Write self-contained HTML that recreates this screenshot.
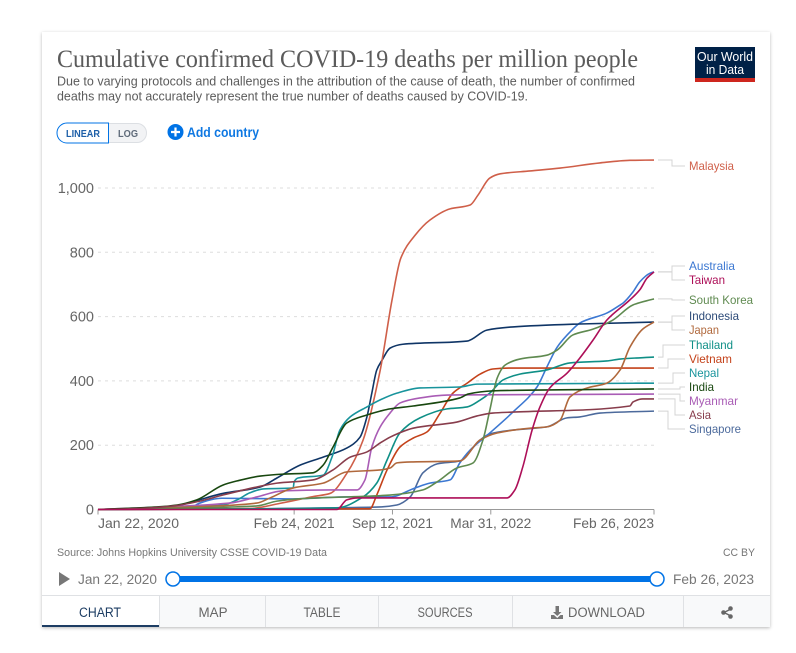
<!DOCTYPE html>
<html lang="en">
<head>
<meta charset="utf-8">
<title>Cumulative confirmed COVID-19 deaths per million people</title>
<style>
html,body{margin:0;padding:0;background:#fff;width:796px;height:653px;overflow:hidden}
svg{display:block}
text{font-family:"Liberation Sans",sans-serif}
</style>
</head>
<body>
<svg id="chart" width="796" height="653" viewBox="0 0 796 653" xmlns="http://www.w3.org/2000/svg">
  <defs>
    <filter id="card-shadow" x="-5%" y="-5%" width="110%" height="110%">
      <feDropShadow dx="0" dy="1" stdDeviation="1.6" flood-color="#000" flood-opacity="0.28"/>
    </filter>
  </defs>
  <rect x="42" y="32" width="728" height="595" fill="#fff" filter="url(#card-shadow)"/>

  <text x="57" y="67" font-size="25" fill="#5b5b5b" style="font-family:'Liberation Serif',serif" textLength="581" lengthAdjust="spacingAndGlyphs">Cumulative confirmed COVID-19 deaths per million people</text>
  <text x="57" y="85.5" font-size="13" fill="#5b5b5b" textLength="578" lengthAdjust="spacingAndGlyphs">Due to varying protocols and challenges in the attribution of the cause of death, the number of confirmed</text>
  <text x="57" y="100.5" font-size="13" fill="#5b5b5b" textLength="471" lengthAdjust="spacingAndGlyphs">deaths may not accurately represent the true number of deaths caused by COVID-19.</text>

  <g>
    <rect x="695" y="47" width="60" height="35" fill="#002147"/>
    <rect x="695" y="78" width="60" height="4" fill="#ce261e"/>
    <text x="725" y="61" font-size="12.5" fill="#fff" text-anchor="middle" textLength="56" lengthAdjust="spacingAndGlyphs">Our World</text>
    <text x="725" y="74" font-size="12.5" fill="#fff" text-anchor="middle" textLength="38" lengthAdjust="spacingAndGlyphs">in Data</text>
  </g>

  <g>
    <path d="M108 123.5H137a9.5 9.5 0 0 1 0 19H108Z" fill="#f2f3f5" stroke="#dcdfe3"/>
    <path d="M108.5 123H67a10 10 0 0 0 0 20H108.5Z" fill="#fff" stroke="#0073e6" stroke-width="1"/>
    <text x="66" y="137" font-size="10.5" font-weight="bold" fill="#1d5fa8" textLength="34" lengthAdjust="spacingAndGlyphs">LINEAR</text>
    <text x="118" y="137" font-size="10.5" font-weight="bold" fill="#5f6b7a" textLength="20" lengthAdjust="spacingAndGlyphs">LOG</text>
  </g>
  <g>
    <circle cx="175.5" cy="132" r="8" fill="#0073e6"/>
    <path d="M171 132H180M175.5 127.5V136.5" stroke="#fff" stroke-width="2.2" fill="none"/>
    <text x="187" y="137" font-size="13.5" font-weight="bold" fill="#0f78e2" textLength="72" lengthAdjust="spacingAndGlyphs">Add country</text>
  </g>

  <g id="grid-layer"></g>
  <g id="y-label-layer"></g>
  <g id="x-axis-layer"></g>
  <g id="series-layer"></g>
  <g id="connector-layer"></g>
  <g id="legend-layer"></g>

  <text x="57" y="556" font-size="11" fill="#777" textLength="270" lengthAdjust="spacingAndGlyphs">Source: Johns Hopkins University CSSE COVID-19 Data</text>
  <text x="755" y="556" font-size="11" fill="#777" text-anchor="end" textLength="32" lengthAdjust="spacingAndGlyphs">CC BY</text>

  <g>
    <path d="M59 572L70 579L59 586Z" fill="#777"/>
    <text x="78" y="584" font-size="13.5" fill="#777" textLength="79" lengthAdjust="spacingAndGlyphs">Jan 22, 2020</text>
    <rect x="173" y="576" width="484" height="6" fill="#0073e6"/>
    <circle cx="173" cy="579" r="7" fill="#fff" stroke="#0073e6" stroke-width="1.5"/>
    <circle cx="657" cy="579" r="7" fill="#fff" stroke="#0073e6" stroke-width="1.5"/>
    <text x="673" y="584" font-size="13.5" fill="#777" textLength="81" lengthAdjust="spacingAndGlyphs">Feb 26, 2023</text>
  </g>

  <g>
    <rect x="159" y="595.5" width="611" height="31.5" fill="#f8f9fa"/>
    <path d="M42 595.5H770M159.5 595.5V627M265.5 595.5V627M378.5 595.5V627M512.5 595.5V627M683.5 595.5V627" stroke="#dfe1e4" fill="none"/>
    <rect x="42" y="596" width="117" height="31" fill="#fff"/>
    <rect x="42" y="625" width="117" height="2" fill="#1d3d63"/>
    <text x="100" y="617" font-size="13.5" fill="#1d3d63" text-anchor="middle" textLength="42" lengthAdjust="spacingAndGlyphs">CHART</text>
    <rect x="160" y="596" width="105" height="29" fill="transparent"/>
    <text x="213" y="617" font-size="13.5" fill="#666" text-anchor="middle" textLength="29" lengthAdjust="spacingAndGlyphs">MAP</text>
    <rect x="266" y="596" width="112" height="29" fill="transparent"/>
    <text x="322" y="617" font-size="13.5" fill="#666" text-anchor="middle" textLength="37" lengthAdjust="spacingAndGlyphs">TABLE</text>
    <rect x="379" y="596" width="133" height="29" fill="transparent"/>
    <text x="445" y="617" font-size="13.5" fill="#666" text-anchor="middle" textLength="55" lengthAdjust="spacingAndGlyphs">SOURCES</text>
    <rect x="513" y="596" width="170" height="29" fill="transparent"/>
    <path d="M555.5 606H559V612H561.5L557.25 616L553 612H555.5ZM551 615H554L557.25 618L560.5 615H563V619H551Z" fill="#777"/>
    <text x="568" y="617" font-size="13.5" fill="#666" textLength="77" lengthAdjust="spacingAndGlyphs">DOWNLOAD</text>
    <g>
      <path d="M731 609L724 612.5L731 616" stroke="#666" stroke-width="1.5" fill="none"/>
      <circle cx="730.5" cy="608.5" r="2.3" fill="#666"/>
      <circle cx="723.5" cy="612.5" r="2.3" fill="#666"/>
      <circle cx="730.5" cy="616.5" r="2.3" fill="#666"/>
    </g>
  </g>
</svg>

<script>
// Axis ticks
const yTicks = [0, 200, 400, 600, 800, 1000];
const yTickLabels = ["0", "200", "400", "600", "800", "1,000"];
const xTickDays = [0, 399, 599, 799, 1131];
const xTickLabels = ["Jan 22, 2020", "Feb 24, 2021", "Sep 12, 2021", "Mar 31, 2022", "Feb 26, 2023"];

// Series data: days since Jan 22, 2020, and deaths per million
const singaporeDays = [0, 323, 458, 574, 608, 635, 661, 690, 736, 777, 797, 844, 913, 954, 980, 1021, 1131];
const singaporeValues = [0, 2, 5, 8, 14, 39, 114, 142, 151, 216, 235, 247, 257, 285, 288, 300, 306];
const australiaDays = [0, 187, 207, 252, 391, 506, 594, 645, 675, 716, 736, 757, 797, 844, 893, 913, 934, 964, 980, 1035, 1062, 1068, 1088, 1102, 1123, 1131];
const australiaValues = [0, 5, 20, 35, 33, 39, 39, 67, 82, 92, 145, 185, 238, 303, 381, 443, 505, 558, 580, 611, 636, 642, 676, 708, 735, 739];
const indonesiaDays = [0, 120, 167, 254, 330, 364, 411, 458, 506, 533, 547, 557, 567, 578, 594, 620, 751, 791, 844, 980, 1131];
const indonesiaValues = [0, 2, 14, 50, 70, 98, 138, 163, 191, 225, 288, 362, 434, 465, 502, 514, 524, 558, 568, 577, 583];
const malaysiaDays = [0, 309, 370, 437, 472, 506, 539, 574, 598, 616, 645, 675, 716, 757, 773, 797, 818, 879, 940, 1021, 1082, 1131];
const malaysiaValues = [0, 3, 19, 40, 50, 112, 215, 433, 651, 782, 853, 900, 935, 947, 978, 1031, 1044, 1053, 1062, 1078, 1086, 1087];
const vietnamDays = [0, 553, 567, 588, 614, 641, 669, 696, 722, 751, 777, 803, 844, 1131];
const vietnamValues = [0, 2, 45, 123, 194, 222, 241, 300, 362, 393, 421, 437, 440, 440];
const thailandDays = [0, 486, 539, 567, 588, 614, 655, 710, 751, 777, 797, 824, 858, 913, 960, 1035, 1062, 1131];
const thailandValues = [0, 5, 39, 82, 154, 238, 285, 313, 319, 340, 362, 403, 421, 434, 456, 462, 468, 474];
const nepalDays = [0, 254, 283, 309, 336, 397, 399, 407, 458, 476, 492, 513, 547, 574, 608, 655, 736, 771, 1131];
const nepalValues = [0, 14, 30, 52, 64, 67, 86, 98, 107, 163, 247, 288, 319, 341, 362, 378, 381, 390, 393];
const myanmarDays = [0, 268, 323, 376, 472, 527, 543, 557, 574, 594, 614, 655, 710, 1131];
const myanmarValues = [0, 20, 39, 58, 61, 61, 92, 194, 257, 300, 331, 347, 356, 359];
const japanDays = [0, 187, 323, 350, 397, 458, 506, 574, 594, 608, 641, 736, 777, 812, 879, 913, 940, 960, 995, 1035, 1062, 1082, 1108, 1131];
const japanValues = [0, 8, 20, 36, 67, 82, 117, 123, 129, 145, 148, 151, 216, 238, 253, 257, 278, 350, 378, 393, 434, 505, 561, 583];
const southKoreaDays = [0, 323, 364, 405, 594, 661, 690, 730, 763, 783, 797, 812, 828, 858, 913, 934, 966, 1007, 1047, 1088, 1123, 1131];
const southKoreaValues = [0, 11, 26, 33, 45, 61, 86, 129, 145, 216, 309, 409, 449, 468, 480, 496, 543, 561, 589, 636, 652, 655];
const indiaDays = [0, 120, 161, 201, 254, 283, 330, 376, 437, 458, 478, 506, 547, 574, 594, 641, 736, 753, 803, 1131];
const indiaValues = [0, 8, 14, 30, 76, 89, 104, 110, 114, 138, 194, 269, 294, 306, 313, 322, 347, 359, 369, 375];
const asiaDays = [0, 65, 153, 207, 254, 323, 364, 437, 478, 513, 547, 574, 594, 608, 641, 730, 771, 803, 844, 1082, 1088, 1108, 1131];
const asiaValues = [0, 2, 11, 26, 45, 70, 82, 92, 123, 163, 179, 207, 225, 235, 253, 272, 291, 300, 303, 322, 334, 344, 344];
const taiwanDays = [0, 486, 506, 527, 594, 832, 848, 864, 883, 899, 919, 954, 980, 1007, 1035, 1082, 1102, 1117, 1131];
const taiwanValues = [0, 0, 30, 36, 36, 36, 61, 132, 247, 319, 378, 424, 471, 527, 589, 652, 683, 720, 739];

// Axis functions
function xScale(day) { return 98 + day * 0.4916; }
function yScale(value) { return 509.5 - value * 0.3215; }

const svgNS = "http://www.w3.org/2000/svg";
function svgEl(tag, parent, attrs) {
  const el = document.createElementNS(svgNS, tag);
  Object.keys(attrs).forEach(function (k) { el.setAttribute(k, attrs[k]); });
  parent.appendChild(el);
  return el;
}

// Monotone cubic path through the scaled points
function monotonePath(days, values) {
  const pts = days.map(function (d, i) { return [xScale(d), yScale(values[i])]; });
  const n = pts.length;
  const dx = [], s = [], m = [];
  for (let i = 0; i < n - 1; i++) {
    dx[i] = Math.max(pts[i + 1][0] - pts[i][0], 0.001);
    s[i] = (pts[i + 1][1] - pts[i][1]) / dx[i];
  }
  m[0] = s[0];
  m[n - 1] = s[n - 2];
  for (let i = 1; i < n - 1; i++) {
    if (s[i - 1] * s[i] <= 0) { m[i] = 0; }
    else {
      const w1 = 2 * dx[i] + dx[i - 1], w2 = dx[i] + 2 * dx[i - 1];
      m[i] = (w1 + w2) / (w1 / s[i - 1] + w2 / s[i]);
    }
  }
  let d = "M" + pts[0][0].toFixed(2) + " " + pts[0][1].toFixed(2);
  for (let i = 0; i < n - 1; i++) {
    const h = dx[i] / 3;
    d += "C" + (pts[i][0] + h).toFixed(2) + " " + (pts[i][1] + m[i] * h).toFixed(2) +
      " " + (pts[i + 1][0] - h).toFixed(2) + " " + (pts[i + 1][1] - m[i + 1] * h).toFixed(2) +
      " " + pts[i + 1][0].toFixed(2) + " " + pts[i + 1][1].toFixed(2);
  }
  return d;
}

// Gridlines and y-axis labels
const gridLayer = document.getElementById("grid-layer");
const yLabelLayer = document.getElementById("y-label-layer");
yTicks.forEach(function (tick, i) {
  if (tick !== 0) {
    const line = svgEl("line", gridLayer, { x1: 98, x2: 654, y1: yScale(tick), y2: yScale(tick), stroke: "#dddddd", "stroke-dasharray": "3,4" });
    
    
  }
  const label = svgEl("text", yLabelLayer, { x: 94, y: yScale(tick) + 5, "font-size": 14.5, fill: "#666", "text-anchor": "end" });
  
  
  label.textContent = yTickLabels[i];
});

// X axis
const xAxisLayer = document.getElementById("x-axis-layer");
const axisLine = svgEl("line", xAxisLayer, { x1: 98, x2: 654, y1: 509.5, y2: 509.5, stroke: "#999" });


xTickDays.forEach(function (day, i) {
  const tick = svgEl("line", xAxisLayer, { x1: xScale(day), x2: xScale(day), y1: 509.5, y2: 514.5, stroke: "#999" });
  
  
  const isFirst = i === 0, isLast = i === xTickDays.length - 1;
  const label = svgEl("text", xAxisLayer, {
    x: xScale(day), y: 528, "font-size": 14, fill: "#666",
    "text-anchor": isFirst ? "start" : (isLast ? "end" : "middle"),
    textLength: 81, lengthAdjust: "spacingAndGlyphs"
  });
  
  
  label.textContent = xTickLabels[i];
});

// Series lines (draw order: back to front)
const seriesLayer = document.getElementById("series-layer");
function drawSeries(days, values, color, name) {
  const path = svgEl("path", seriesLayer, { d: monotonePath(days, values), fill: "none", stroke: color, "stroke-width": 1.6, "stroke-linejoin": "round" });
  
  
  path.setAttribute('aria-label', name);
}
drawSeries(singaporeDays, singaporeValues, "#4c6a9c", "Singapore");
drawSeries(australiaDays, australiaValues, "#3c78d2", "Australia");
drawSeries(indonesiaDays, indonesiaValues, "#0f3566", "Indonesia");
drawSeries(malaysiaDays, malaysiaValues, "#cf5f49", "Malaysia");
drawSeries(vietnamDays, vietnamValues, "#c4421a", "Vietnam");
drawSeries(thailandDays, thailandValues, "#0f8f86", "Thailand");
drawSeries(nepalDays, nepalValues, "#18949c", "Nepal");
drawSeries(myanmarDays, myanmarValues, "#a95cb5", "Myanmar");
drawSeries(japanDays, japanValues, "#b0683c", "Japan");
drawSeries(southKoreaDays, southKoreaValues, "#5f8a50", "South Korea");
drawSeries(indiaDays, indiaValues, "#18470f", "India");
drawSeries(asiaDays, asiaValues, "#883d4c", "Asia");
drawSeries(taiwanDays, taiwanValues, "#ad0f58", "Taiwan");

// Legend and connector lines
const connectorLayer = document.getElementById("connector-layer");
const legendLayer = document.getElementById("legend-layer");
function drawLegend(name, color, lastValue, labelY, elbowX, width) {
  const startY = yScale(lastValue);
  const connector = svgEl("path", connectorLayer, {
    d: "M658 " + startY + "H" + elbowX + "V" + labelY + "H685",
    fill: "none", stroke: "#d4d4d4", "stroke-width": 1
  });
  
  
  const label = svgEl("text", legendLayer, { x: 689, y: labelY + 4, "font-size": 12, fill: color, textLength: width, lengthAdjust: "spacingAndGlyphs" });
  
  
  label.textContent = name;
}
drawLegend("Malaysia", "#cf5f49", malaysiaValues[malaysiaValues.length - 1], 166, 672, 45);
drawLegend("Australia", "#3c78d2", australiaValues[australiaValues.length - 1], 266, 672, 46);
drawLegend("Taiwan", "#ad0f58", taiwanValues[taiwanValues.length - 1], 280, 672, 36);
drawLegend("South Korea", "#5f8a50", southKoreaValues[southKoreaValues.length - 1], 300, 672, 64);
drawLegend("Indonesia", "#2c4a78", indonesiaValues[indonesiaValues.length - 1], 316, 672, 50);
drawLegend("Japan", "#b0683c", japanValues[japanValues.length - 1], 330, 672, 30);
drawLegend("Thailand", "#0f8f86", thailandValues[thailandValues.length - 1], 345, 663, 44);
drawLegend("Vietnam", "#c4421a", vietnamValues[vietnamValues.length - 1], 359, 668, 43);
drawLegend("Nepal", "#18949c", nepalValues[nepalValues.length - 1], 373, 673, 30);
drawLegend("India", "#18470f", indiaValues[indiaValues.length - 1], 387, 680, 25);
drawLegend("Myanmar", "#a95cb5", myanmarValues[myanmarValues.length - 1], 401, 680, 49);
drawLegend("Asia", "#883d4c", asiaValues[asiaValues.length - 1], 415, 675, 22);
drawLegend("Singapore", "#4c6a9c", singaporeValues[singaporeValues.length - 1], 429, 668, 52);
</script>
</body>
</html>
